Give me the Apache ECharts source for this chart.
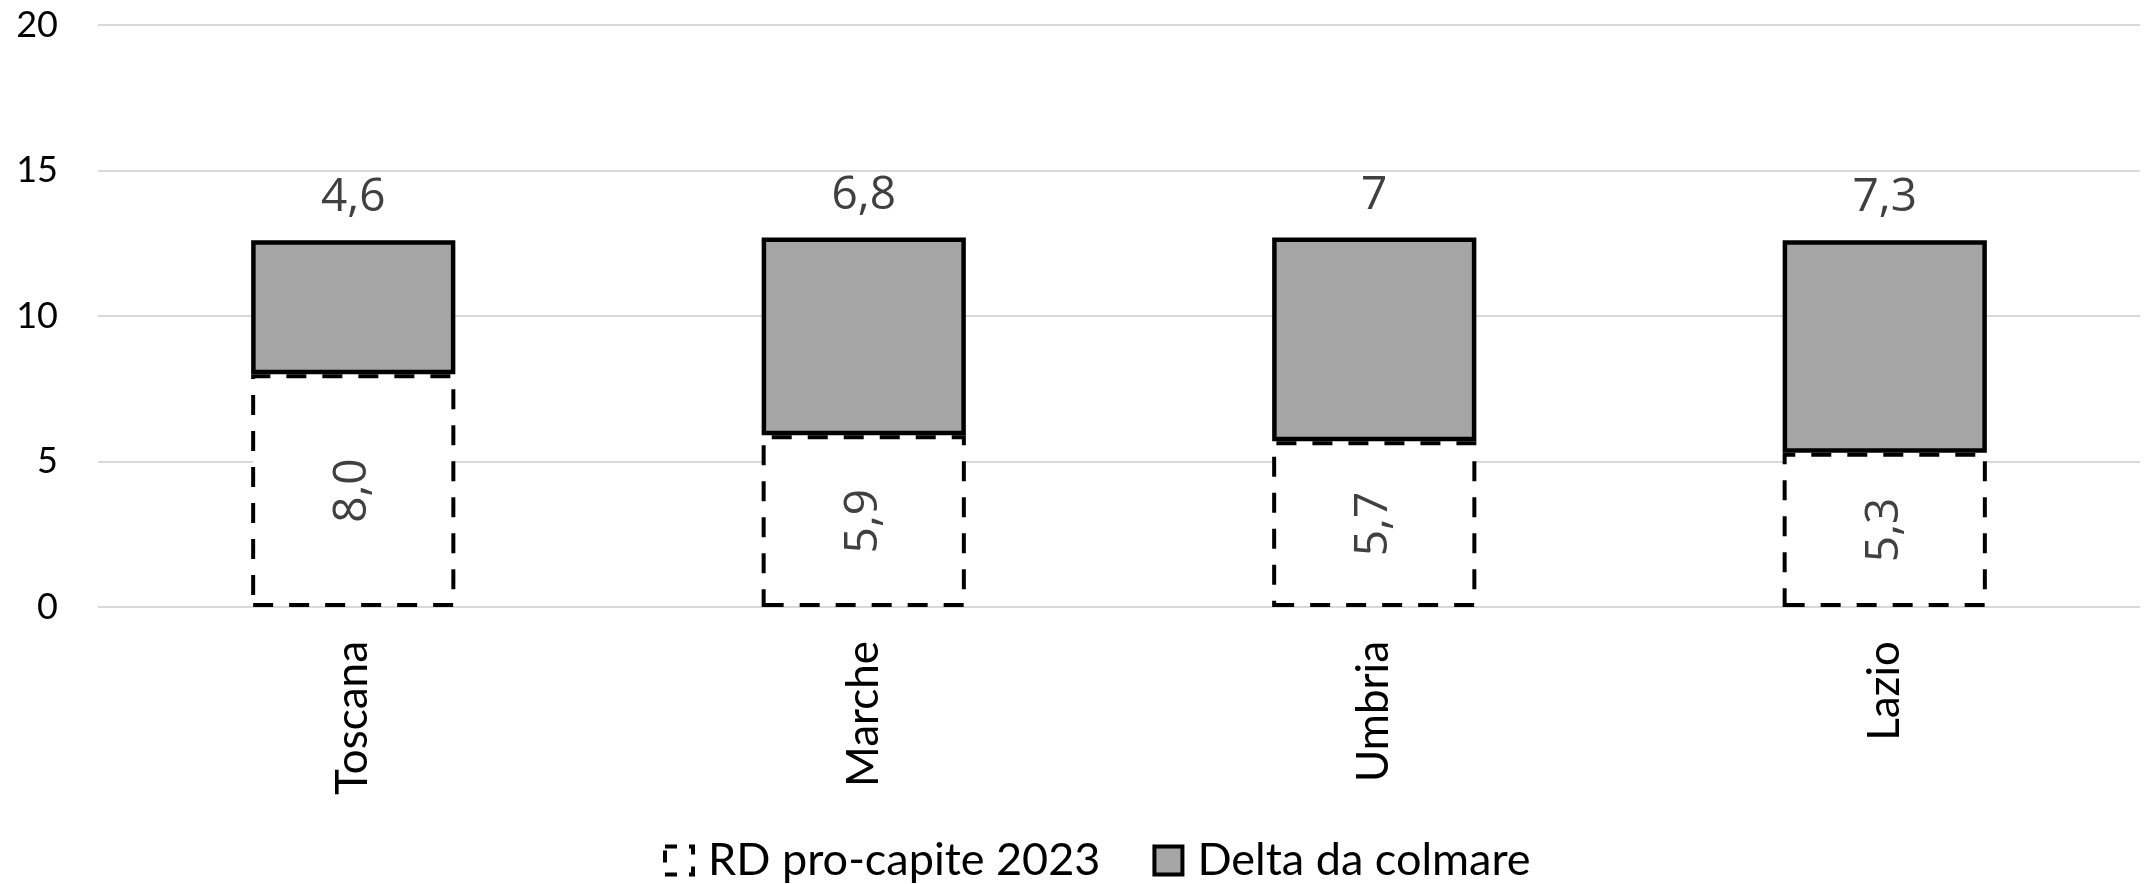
<!DOCTYPE html>
<html>
<head>
<meta charset="utf-8">
<script src="https://cdn.jsdelivr.net/npm/echarts@6/dist/echarts.min.js"></script>
<style>
html,body{margin:0;padding:0;background:#fff;}
#chart{width:2146px;height:884px;}
</style>
</head>
<body>
<div id="chart"></div>
<script>
const categories = ['Toscana', 'Marche', 'Umbria', 'Lazio'];
const rdProCapite2023 = [8.0, 5.9, 5.7, 5.3];
const deltaDaColmare = [4.6, 6.8, 7, 7.3];
const yTicks = { min: 0, max: 20, interval: 5 };
const seriesNames = ['RD pro-capite 2023', 'Delta da colmare'];

const chart = echarts.init(document.getElementById('chart'), null, { renderer: 'canvas' });
const calibriLike = 'Lato, "Open Sans", sans-serif';
const valueFont = '"Open Sans", sans-serif';

chart.setOption({
  animation: false,
  backgroundColor: '#ffffff',
  grid: { left: 98, right: 6, top: 25, bottom: 277, containLabel: false },
  legend: {
    top: 833,
    left: 658,
    icon: 'rect',
    itemWidth: 28,
    itemHeight: 28,
    itemGap: 52,
    textStyle: { fontFamily: calibriLike, fontSize: 45, color: '#000000', padding: [0, 0, 0, 10] },
    data: [
      { name: seriesNames[0], itemStyle: { color: '#ffffff', borderColor: '#000000', borderWidth: 4, borderType: [12, 12] } },
      { name: seriesNames[1], itemStyle: { color: '#A5A5A5', borderColor: '#000000', borderWidth: 4 } }
    ]
  },
  xAxis: {
    type: 'category',
    data: categories,
    axisLine: { show: false },
    axisTick: { show: false },
    axisLabel: {
      rotate: 90,
      margin: 34,
      fontFamily: calibriLike,
      fontSize: 44,
      color: '#000000'
    }
  },
  yAxis: {
    type: 'value',
    min: yTicks.min,
    max: yTicks.max,
    interval: yTicks.interval,
    axisLine: { show: false },
    axisTick: { show: false },
    splitLine: { lineStyle: { color: '#D9D9D9', width: 2 } },
    axisLabel: {
      margin: 40,
      fontFamily: calibriLike,
      fontSize: 36,
      color: '#000000'
    }
  },
  series: [
    {
      name: seriesNames[0],
      type: 'bar',
      stack: 'total',
      data: rdProCapite2023,
      barCategoryGap: '60%',
      itemStyle: {
        color: '#ffffff',
        borderColor: '#000000',
        borderWidth: 4,
        borderType: [20, 16]
      },
      label: {
        show: true,
        position: 'inside',
        rotate: 90,
        fontFamily: valueFont,
        fontSize: 46,
        color: '#404040',
        formatter: p => p.value.toFixed(1).replace('.', ',')
      }
    },
    {
      name: seriesNames[1],
      type: 'bar',
      stack: 'total',
      data: deltaDaColmare,
      barCategoryGap: '60%',
      itemStyle: {
        color: '#A5A5A5',
        borderColor: '#000000',
        borderWidth: 4.5
      },
      label: {
        show: true,
        position: 'top',
        distance: 19,
        fontFamily: valueFont,
        fontSize: 46,
        color: '#404040',
        formatter: p => String(p.value).replace('.', ',')
      }
    }
  ]
});
</script>
</body>
</html>
